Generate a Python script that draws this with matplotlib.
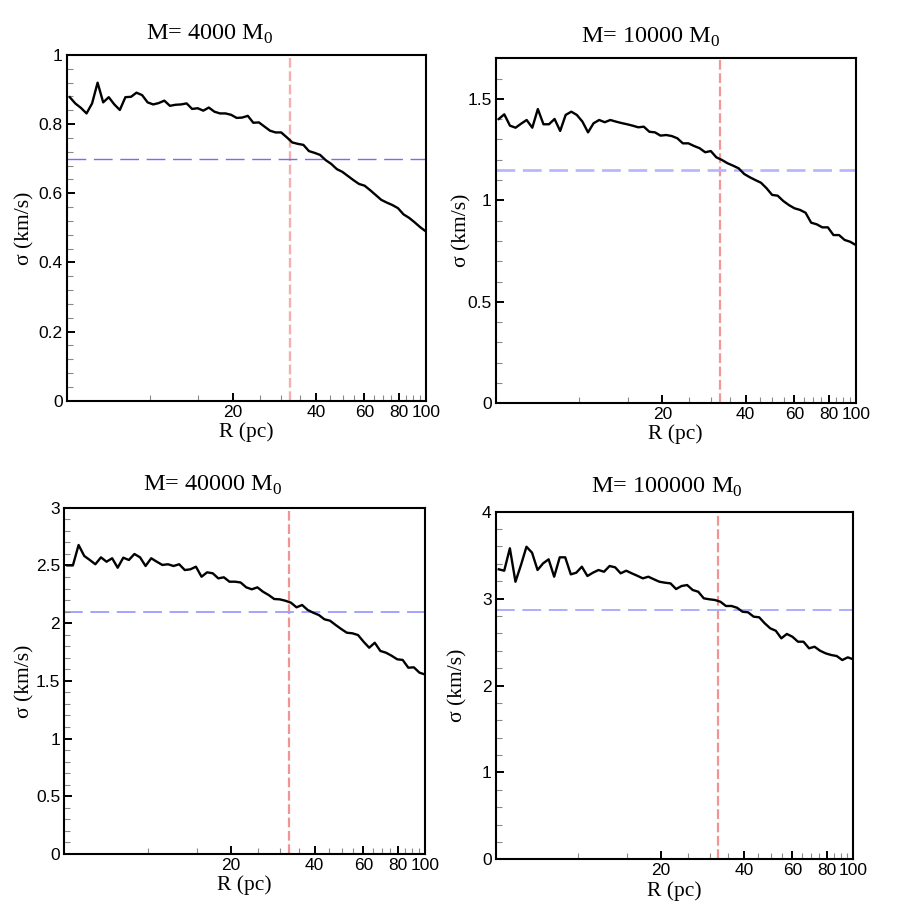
"""Velocity dispersion profiles sigma(R) for four cluster masses (2x2 panels)."""

import matplotlib

matplotlib.use("Agg")
import matplotlib.pyplot as plt
from matplotlib.ticker import (AutoMinorLocator, FixedLocator, FuncFormatter,
                               MultipleLocator, NullFormatter)

# --- data ---------------------------------------------------------------
R_PC = [5.13, 5.37, 5.63, 5.90, 6.18, 6.47, 6.78, 7.10, 7.44, 7.79,
        8.16, 8.55, 8.95, 9.38, 9.82, 10.29, 10.78, 11.29, 11.83, 12.39,
        12.98, 13.60, 14.24, 14.92, 15.63, 16.37, 17.15, 17.96, 18.82, 19.71,
        20.65, 21.63, 22.66, 23.73, 24.86, 26.04, 27.28, 28.58, 29.94, 31.36,
        32.85, 34.40, 36.04, 37.75, 39.54, 41.42, 43.39, 45.45, 47.61, 49.87,
        52.24, 54.72, 57.32, 60.05, 62.90, 65.89, 69.02, 72.30, 75.73, 79.33,
        83.10, 87.05, 91.18, 95.50, 100.0]

SIGMA_4000 = [0.878, 0.860, 0.847, 0.831, 0.860, 0.920, 0.863, 0.878, 0.857, 0.841,
              0.878, 0.879, 0.891, 0.884, 0.863, 0.857, 0.861, 0.868, 0.853, 0.856,
              0.857, 0.860, 0.844, 0.846, 0.839, 0.848, 0.836, 0.831, 0.831, 0.827,
              0.818, 0.819, 0.824, 0.804, 0.805, 0.793, 0.781, 0.776, 0.776, 0.762,
              0.747, 0.743, 0.740, 0.722, 0.717, 0.711, 0.696, 0.685, 0.670, 0.662,
              0.650, 0.638, 0.627, 0.622, 0.609, 0.595, 0.581, 0.573, 0.566, 0.557,
              0.539, 0.529, 0.516, 0.502, 0.490]

SIGMA_10000 = [1.401, 1.424, 1.368, 1.358, 1.378, 1.396, 1.358, 1.450, 1.375, 1.375,
               1.401, 1.342, 1.421, 1.437, 1.421, 1.388, 1.335, 1.380, 1.396, 1.385,
               1.396, 1.388, 1.381, 1.375, 1.368, 1.360, 1.363, 1.338, 1.335, 1.319,
               1.322, 1.317, 1.306, 1.281, 1.281, 1.268, 1.257, 1.237, 1.243, 1.212,
               1.199, 1.183, 1.171, 1.158, 1.130, 1.114, 1.100, 1.087, 1.060, 1.027,
               1.023, 0.997, 0.977, 0.961, 0.953, 0.939, 0.890, 0.882, 0.867, 0.867,
               0.829, 0.829, 0.805, 0.796, 0.780]

SIGMA_40000 = [2.500, 2.500, 2.677, 2.582, 2.547, 2.510, 2.570, 2.532, 2.562, 2.480,
               2.567, 2.547, 2.599, 2.570, 2.495, 2.562, 2.532, 2.504, 2.510, 2.495,
               2.510, 2.460, 2.466, 2.489, 2.402, 2.440, 2.432, 2.388, 2.397, 2.359,
               2.359, 2.352, 2.310, 2.293, 2.310, 2.272, 2.244, 2.209, 2.206, 2.194,
               2.177, 2.137, 2.157, 2.114, 2.090, 2.070, 2.033, 2.021, 1.984, 1.949,
               1.917, 1.912, 1.897, 1.839, 1.787, 1.830, 1.759, 1.744, 1.718, 1.687,
               1.681, 1.614, 1.617, 1.571, 1.555]

SIGMA_100000 = [3.337, 3.321, 3.579, 3.194, 3.387, 3.597, 3.528, 3.329, 3.406, 3.452,
                3.252, 3.475, 3.475, 3.279, 3.298, 3.367, 3.260, 3.298, 3.329, 3.309,
                3.375, 3.360, 3.291, 3.321, 3.291, 3.263, 3.233, 3.252, 3.222, 3.194,
                3.183, 3.175, 3.110, 3.145, 3.156, 3.099, 3.079, 3.003, 2.992, 2.984,
                2.964, 2.915, 2.915, 2.895, 2.849, 2.842, 2.792, 2.785, 2.716, 2.658,
                2.630, 2.543, 2.593, 2.561, 2.504, 2.504, 2.428, 2.446, 2.400, 2.370,
                2.351, 2.339, 2.293, 2.324, 2.301]

MASSES = [4000, 10000, 40000, 100000]
SIGMAS = [SIGMA_4000, SIGMA_10000, SIGMA_40000, SIGMA_100000]
SIGMA_REF = [0.70, 1.15, 2.10, 2.87]     # horizontal dashed level (km/s)
R_CUT = 32.3                             # vertical dashed radius (pc)
Y_MAX = [1.0, 1.7, 3.0, 4.0]
Y_STEP = [0.2, 0.5, 0.5, 1.0]
X_MAJOR = [20, 40, 60, 80, 100]
X_MINOR = [10, 15, 25, 30, 35, 45, 50, 55, 65, 70, 75, 85, 90, 95]

# --- layout / style ------------------------------------------------------
SERIF = "Liberation Serif"
SANS = "Liberation Sans"
W, H = 915, 911
# axes boxes in pixels: left, top, right, bottom
BOXES = [(66.7, 55.0, 425.7, 400.7), (495.7, 58.3, 855.7, 403.3),
         (64.3, 507.7, 425.0, 854.0), (495.7, 511.7, 853.3, 859.3)]
TITLE_XY = [(0.221, 1.043), (0.237, 1.046), (0.217, 1.048), (0.266, 1.053)]
YLABEL_X = [-0.090, -0.066, -0.082, -0.080]
BLUE = [("#6f6fff", 1.0), ("#b4b4ff", 1.9), ("#9c9cff", 1.3), ("#adadff", 1.4)]
RED = [("#f4b0b0", 1.7), ("#f09898", 1.6), ("#f09494", 1.6), ("#f09494", 1.6)]

plt.rcParams["font.family"] = SANS
plt.rcParams["mathtext.fontset"] = "custom"
plt.rcParams["mathtext.rm"] = SERIF
plt.rcParams["lines.scale_dashes"] = False


def _panel(fig, k):
    l, t, r, b = BOXES[k]
    ax = fig.add_axes([l / W, (H - b) / H, (r - l) / W, (b - t) / H])
    col, lw = RED[k]
    ax.axvline(R_CUT, color=col, lw=lw, dashes=(7.0, 2.6), zorder=1)
    col, lw = BLUE[k]
    ax.axhline(SIGMA_REF[k], color=col, lw=lw, dashes=(13.5, 5.5), zorder=1)
    ax.plot(R_PC, SIGMAS[k], color="black", lw=1.7, zorder=3)

    ax.set_xscale("log")
    ax.set_xlim(5, 100)
    ax.set_ylim(0, Y_MAX[k])
    ax.xaxis.set_major_locator(FixedLocator(X_MAJOR))
    ax.xaxis.set_major_formatter(FuncFormatter(lambda v, _: f"{v:g}"))
    ax.xaxis.set_minor_locator(FixedLocator(X_MINOR))
    ax.xaxis.set_minor_formatter(NullFormatter())
    ax.yaxis.set_major_locator(MultipleLocator(Y_STEP[k]))
    ax.yaxis.set_major_formatter(FuncFormatter(lambda v, _: f"{v:g}"))
    ax.yaxis.set_minor_locator(AutoMinorLocator(5))

    ax.tick_params(which="both", direction="in", top=False, right=False)
    ax.tick_params(which="major", length=6, width=1.4, labelsize=12.5, pad=3)
    ax.tick_params(which="minor", length=4.3, width=0.8, color="#8a8a8a")
    for sp in ax.spines.values():
        sp.set_linewidth(1.5)

    ax.set_xlabel("R (pc)", fontfamily=SERIF, fontsize=15.5)
    ax.xaxis.set_label_coords(0.5, -0.062)
    ax.set_ylabel("σ (km/s)", fontfamily=SERIF, fontsize=15.5)
    ax.yaxis.set_label_coords(YLABEL_X[k], 0.5)
    tx, ty = TITLE_XY[k]
    ax.text(tx, ty, rf"M= {MASSES[k]} $\mathrm{{M}}_0$", transform=ax.transAxes,
            fontfamily=SERIF, fontsize=17.5, ha="left", va="baseline")


def main():
    fig = plt.figure(figsize=(W / 100, H / 100), dpi=100)
    for k in range(4):
        _panel(fig, k)
    fig.savefig("out.png", dpi=100)
    plt.close(fig)


if __name__ == "__main__":
    main()
